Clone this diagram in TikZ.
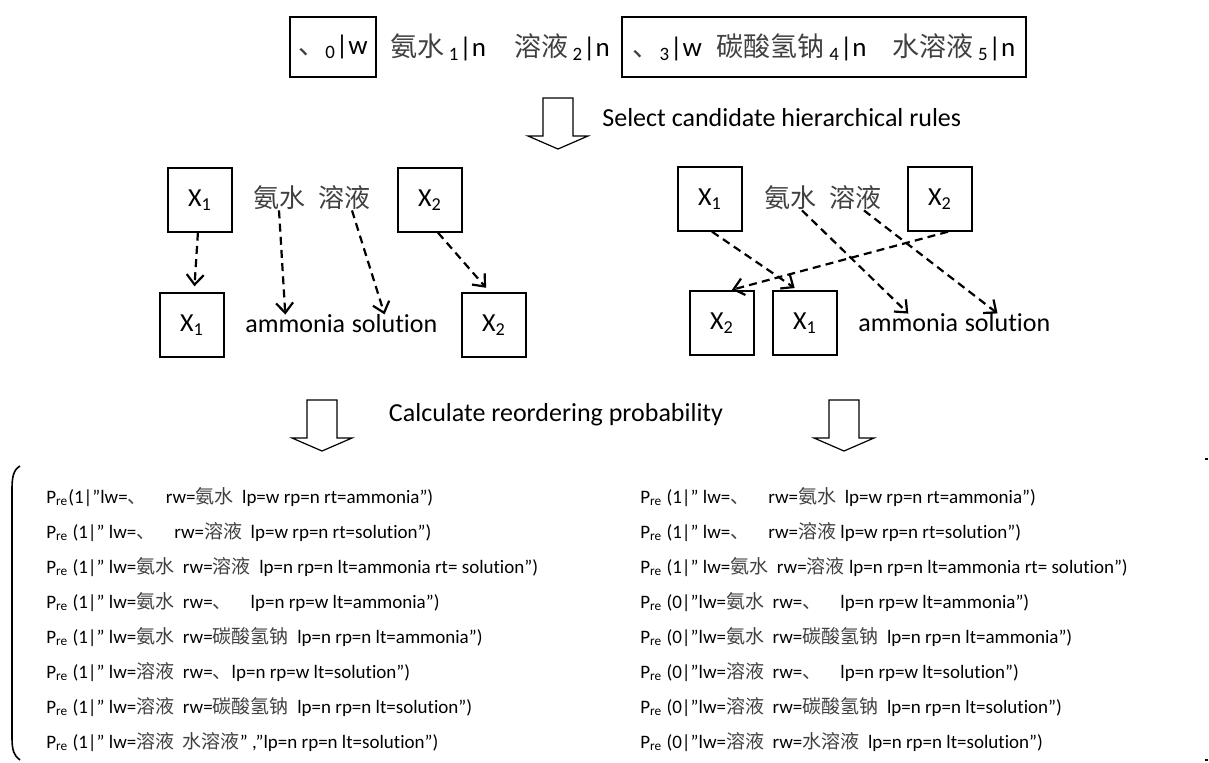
\documentclass[tikz,border=0pt]{standalone}
\usepackage{fontspec}
\setmainfont{Carlito}[Ligatures=NoCommon]
\newfontfamily\cjk{Noto Sans CJK SC}
\usepackage{tikz}
\usetikzlibrary{arrows.meta, positioning, calc}
\newcommand\zh[1]{{\cjk\color{black!75}#1}}
\newcommand\Pre{P\textsubscript{re}}

\begin{document}
\begin{tikzpicture}[
  x=0.5pt, y=-0.5pt,
  font=\fontsize{13}{15}\selectfont,
  wbox/.style={draw, line width=0.7pt, inner sep=0pt, minimum height=30pt},
  src/.style={font=\fontsize{13.5}{16}\selectfont},
  xbox/.style={draw, line width=0.7pt, minimum width=32pt, minimum height=32pt, inner sep=0pt},
  word/.style={inner sep=0pt},
  link/.style={line width=1.1pt, dash pattern=on 4pt off 2.6pt, -{Straight Barb[length=5pt,width=8.5pt]}},
  rule/.style={anchor=west, inner sep=0pt, font=\fontsize{9.5}{11}\selectfont},
  bigarrow/.pic={\draw[line width=0.6pt] (-15,0) -- (15,0) -- (15,38) -- (30,38) -- (0,51) -- (-30,38) -- (-15,38) -- cycle;}
]
\useasboundingbox (0,0) rectangle (1209,762);

% source sentence
\node[wbox, src, minimum width=43pt] (w0) at (333,47) {\zh{、}\textsubscript{0}|w};
\node[word, src] (w12) at (500,47) {\zh{氨水}\,\textsubscript{1}|n\hspace{14pt}\zh{溶液}\,\textsubscript{2}|n};
\node[wbox, src, minimum width=202pt] (w35) at (824,47) {\zh{、}\textsubscript{3}|w\hspace{7.5pt}\zh{碳酸氢钠}\,\textsubscript{4}|n\hspace{13pt}\zh{水溶液}\,\textsubscript{5}|n};

\pic at (558,98) {bigarrow};
\node[word, anchor=west] (sel) at (602,118) {Select candidate hierarchical rules};

% left rule
\node[xbox] (ltx1) at (200,200) {X\textsubscript{1}};
\node[word] (lan) at (279,198) {\zh{氨水}};
\node[word] (lrong) at (344,198) {\zh{溶液}};
\node[xbox] (ltx2) at (430,200) {X\textsubscript{2}};
\node[xbox] (lbx1) at (192,325) {X\textsubscript{1}};
\node[word, anchor=west] (lamm) at (245,324) {ammonia};
\node[word, base right=2.9pt of lamm] (lsol) {solution};
\node[xbox] (lbx2) at (494,325) {X\textsubscript{2}};

\draw[link, shorten >=3pt] (ltx1) -- (lbx1);
\draw[link] (lan.south) -- ([xshift=-5pt]lamm.north);
\draw[link] ([xshift=4pt]lrong.south) -- ([xshift=-5pt]lsol.north);
\draw[link, shorten >=3pt] ([xshift=4pt]ltx2.south) -- ([xshift=-2pt]lbx2.north);

% right rule
\node[xbox] (rtx1) at (710,199) {X\textsubscript{1}};
\node[word] (ran) at (790,198) {\zh{氨水}};
\node[word] (rrong) at (855,198) {\zh{溶液}};
\node[xbox] (rtx2) at (940,199) {X\textsubscript{2}};
\node[xbox] (rbx2) at (722,323) {X\textsubscript{2}};
\node[xbox] (rbx1) at (805,323) {X\textsubscript{1}};
\node[word, anchor=west] (ramm) at (858,323) {ammonia};
\node[word, base right=2.9pt of ramm] (rsol) {solution};

\draw[link, shorten >=2pt] ([xshift=1pt]rtx1.south) -- ([xshift=-3.5pt]rbx1.north);
\draw[link] ([xshift=6pt]ran.south) -- (ramm.north);
\draw[link] ([xshift=4.5pt]rrong.south) -- ([xshift=-5pt]rsol.north);
\draw[link, shorten >=1pt] ([xshift=4pt]rtx2.south) -- ([xshift=4pt]rbx2.north);

\pic at (322,400) {bigarrow};
\node[word] (calc) at (556,415) {Calculate reordering probability};
\pic at (844,400) {bigarrow};

% probabilities
\draw[line width=0.8pt] (20,466) .. controls (13,470) and (12,478) .. (12,490) -- (12,738) .. controls (12,750) and (14,756) .. (20,760);
\draw[line width=0.6pt] (1205,459) -- (1208,459);
\draw[line width=0.6pt] (1205,760) -- (1208,760);

\node[rule] (l1) at (46,497) {\Pre(1|”lw=\zh{、}\quad rw=\zh{氨水}\ \ lp=w rp=n rt=ammonia”)};
\node[rule] (l2) at (46,532) {\Pre\ (1|” lw=\zh{、}\quad rw=\zh{溶液}\ \ lp=w rp=n rt=solution”)};
\node[rule] (l3) at (46,567) {\Pre\ (1|” lw=\zh{氨水}\ \ rw=\zh{溶液}\ \ lp=n rp=n lt=ammonia rt= solution”)};
\node[rule] (l4) at (46,602) {\Pre\ (1|” lw=\zh{氨水}\ \ rw=\zh{、}\quad lp=n rp=w lt=ammonia”)};
\node[rule] (l5) at (46,637) {\Pre\ (1|” lw=\zh{氨水}\ \ rw=\zh{碳酸氢钠}\ \ lp=n rp=n lt=ammonia”)};
\node[rule] (l6) at (46,672) {\Pre\ (1|” lw=\zh{溶液}\ \ rw=\zh{、}lp=n rp=w lt=solution”)};
\node[rule] (l7) at (46,707) {\Pre\ (1|” lw=\zh{溶液}\ \ rw=\zh{碳酸氢钠}\ \ lp=n rp=n lt=solution”)};
\node[rule] (l8) at (46,742) {\Pre\ (1|” lw=\zh{溶液}\ \ \zh{水溶液}” ,”lp=n rp=n lt=solution”)};

\node[rule] (r1) at (640,497) {\Pre\ (1|” lw=\zh{、}\quad rw=\zh{氨水}\ \ lp=w rp=n rt=ammonia”)};
\node[rule] (r2) at (640,532) {\Pre\ (1|” lw=\zh{、}\quad rw=\zh{溶液} lp=w rp=n rt=solution”)};
\node[rule] (r3) at (640,567) {\Pre\ (1|” lw=\zh{氨水}\ \ rw=\zh{溶液} lp=n rp=n lt=ammonia rt= solution”)};
\node[rule] (r4) at (640,602) {\Pre\ (0|”lw=\zh{氨水}\ \ rw=\zh{、}\quad lp=n rp=w lt=ammonia”)};
\node[rule] (r5) at (640,637) {\Pre\ (0|”lw=\zh{氨水}\ \ rw=\zh{碳酸氢钠}\ \ lp=n rp=n lt=ammonia”)};
\node[rule] (r6) at (640,672) {\Pre\ (0|”lw=\zh{溶液}\ \ rw=\zh{、}\quad lp=n rp=w lt=solution”)};
\node[rule] (r7) at (640,707) {\Pre\ (0|”lw=\zh{溶液}\ \ rw=\zh{碳酸氢钠}\ \ lp=n rp=n lt=solution”)};
\node[rule] (r8) at (640,742) {\Pre\ (0|”lw=\zh{溶液}\ \ rw=\zh{水溶液}\ \ lp=n rp=n lt=solution”)};
\end{tikzpicture}
\end{document}
